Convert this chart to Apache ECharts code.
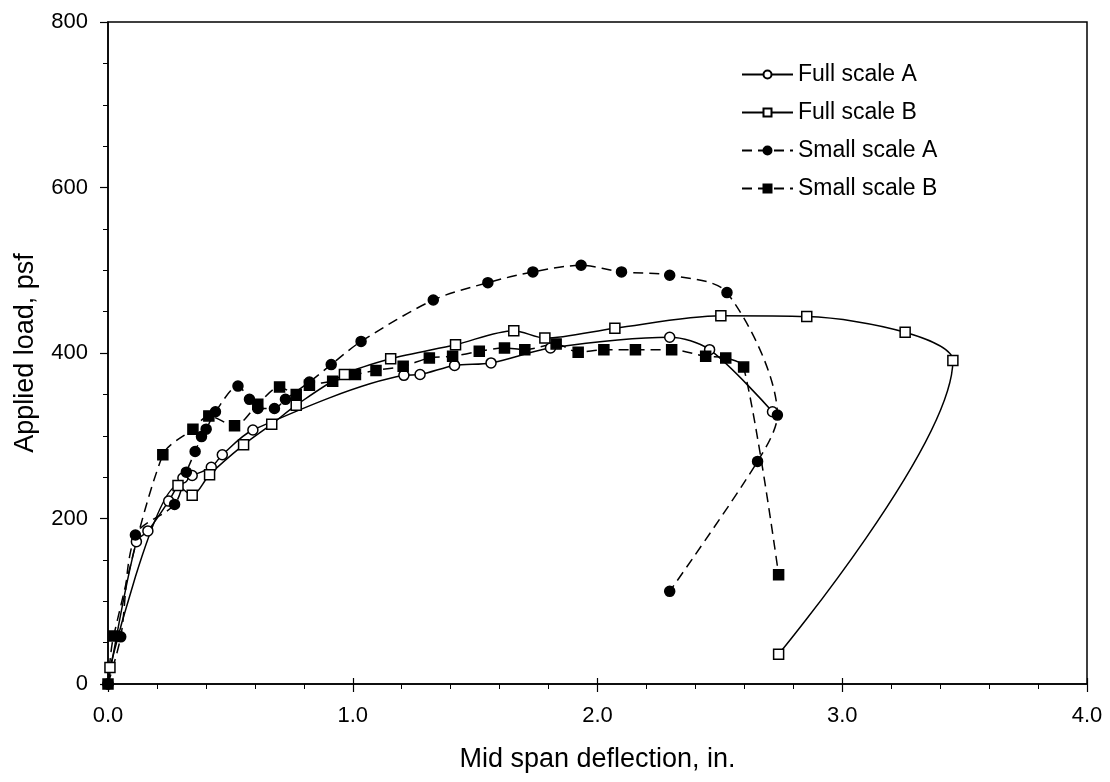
<!DOCTYPE html>
<html>
<head>
<meta charset="utf-8">
<script src="https://cdn.jsdelivr.net/npm/echarts@6/dist/echarts.min.js"></script>
<style>
  html, body { margin: 0; padding: 0; background: #fff; }
  #chart { width: 1110px; height: 782px; }
</style>
</head>
<body>
<div id="chart"></div>
<script>
// deflection (in.) and load (psf)
var fullAX = [0, 0.116, 0.163, 0.248, 0.306, 0.344, 0.422, 0.467, 0.592, 1.209, 1.275, 1.416, 1.565, 1.808, 2.295, 2.458, 2.715];
var fullAY = [0, 172, 185, 221, 249, 252, 262, 277, 307, 373, 374, 385, 388, 406, 419, 404, 329];

var fullBX = [0.008, 0.286, 0.344, 0.415, 0.554, 0.669, 0.769, 0.966, 1.155, 1.420, 1.658, 1.785, 2.071, 2.504, 2.855, 3.257, 3.452, 2.740];
var fullBY = [20, 240, 228, 253, 289, 314, 337, 374, 393, 410, 427, 418, 430, 445, 444, 425, 391, 36];

var smallAX = [0, 0.052, 0.112, 0.272, 0.320, 0.356, 0.382, 0.401, 0.439, 0.531, 0.578, 0.612, 0.680, 0.725, 0.823, 0.912, 1.034, 1.329, 1.552, 1.736, 1.933, 2.098, 2.295, 2.529, 2.735, 2.654, 2.295];
var smallAY = [0, 57, 180, 217, 256, 281, 299, 308, 329, 360, 344, 333, 333, 344, 365, 386, 414, 464, 485, 498, 506, 498, 494, 473, 325, 269, 112];

var smallBX = [0, 0.023, 0.224, 0.347, 0.412, 0.517, 0.612, 0.701, 0.769, 0.823, 0.918, 1.011, 1.095, 1.206, 1.313, 1.408, 1.517, 1.620, 1.703, 1.831, 1.921, 2.026, 2.155, 2.303, 2.442, 2.524, 2.597, 2.740];
var smallBY = [0, 58, 277, 308, 324, 312, 338, 359, 350, 361, 366, 374, 379, 384, 394, 396, 402, 406, 404, 411, 401, 404, 404, 404, 396, 394, 383, 132];

var seriesNames = ['Full scale A', 'Full scale B', 'Small scale A', 'Small scale B'];

function pairs(xs, ys) {
	return xs.map(function (x, i) { return [x, ys[i]]; });
}

var font = 'Liberation Sans, Arial, sans-serif';

function makeSeries(name, xs, ys, symbol, filled, dashed) {
	return {
		name: name,
		type: 'line',
		data: pairs(xs, ys),
		smooth: 0.3,
		symbol: symbol,
		symbolSize: 10,
		lineStyle: {
			color: '#000',
			width: 1.5,
			type: dashed ? [10, 6] : 'solid'
		},
		itemStyle: {
			color: filled ? '#000' : '#fff',
			borderColor: '#000',
			borderWidth: 1.5
		},
		emphasis: { disabled: true }
	};
}

var option = {
	animation: false,
	backgroundColor: '#fff',
	grid: {
		left: 108,
		right: 23,
		top: 22,
		bottom: 98,
		show: true,
		borderColor: '#000',
		borderWidth: 1.5
	},
	legend: {
		orient: 'vertical',
		left: 736,
		top: 58,
		itemWidth: 51,
		itemHeight: 10,
		itemGap: 15,
		textStyle: {
			fontFamily: font,
			fontSize: 23,
			color: '#000'
		},
		data: seriesNames
	},
	xAxis: [{
		type: 'value',
		min: 0,
		max: 4,
		interval: 1,
		name: 'Mid span deflection, in.',
		nameLocation: 'middle',
		nameGap: 62,
		nameTextStyle: {
			fontFamily: font,
			fontSize: 27,
			color: '#000'
		},
		axisLine: { lineStyle: { color: '#000', width: 1.5 } },
		axisTick: { length: 8, lineStyle: { color: '#000', width: 1.2 } },
		minorTick: { show: true, splitNumber: 5, length: 5, lineStyle: { color: '#000', width: 1 } },
		axisLabel: {
			margin: 21,
			fontFamily: font,
			fontSize: 22,
			color: '#000',
			formatter: function (v) { return v.toFixed(1); }
		},
		splitLine: { show: false }
	}, {
		// inner half of the major ticks that cross the x axis
		type: 'value',
		position: 'bottom',
		min: 0,
		max: 4,
		interval: 1,
		axisLine: { show: false },
		axisTick: { inside: true, length: 6, lineStyle: { color: '#000', width: 1.2 } },
		axisLabel: { show: false },
		splitLine: { show: false }
	}],
	yAxis: {
		type: 'value',
		min: 0,
		max: 800,
		interval: 200,
		name: 'Applied load, psf',
		nameLocation: 'middle',
		nameGap: 69,
		nameTextStyle: {
			fontFamily: font,
			fontSize: 27,
			color: '#000'
		},
		axisLine: { lineStyle: { color: '#000', width: 1.5 } },
		axisTick: { length: 8, lineStyle: { color: '#000', width: 1.2 } },
		minorTick: { show: true, splitNumber: 4, length: 5, lineStyle: { color: '#000', width: 1 } },
		axisLabel: {
			margin: 20,
			fontFamily: font,
			fontSize: 22,
			color: '#000'
		},
		splitLine: { show: false }
	},
	series: [
		makeSeries(seriesNames[0], fullAX, fullAY, 'circle', false, false),
		makeSeries(seriesNames[1], fullBX, fullBY, 'rect', false, false),
		makeSeries(seriesNames[2], smallAX, smallAY, 'circle', true, true),
		makeSeries(seriesNames[3], smallBX, smallBY, 'rect', true, true)
	]
};

var chart = echarts.init(document.getElementById('chart'), null, { renderer: 'canvas' });
chart.setOption(option);
</script>
</body>
</html>
